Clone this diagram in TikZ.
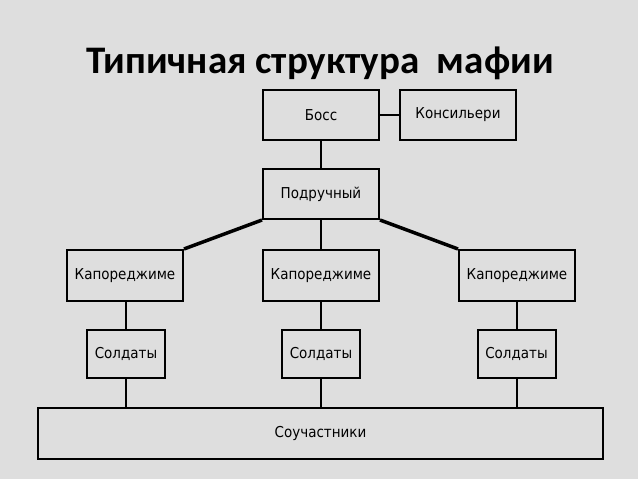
\documentclass[tikz,border=0pt]{standalone}
\usepackage{fontspec}
\setmainfont{DejaVu Sans}
\newfontfamily\boxfont{DejaVu Sans Condensed}
\newfontfamily\titlefont{Carlito}
\definecolor{bggray}{RGB}{222,222,222}
\begin{document}
\begin{tikzpicture}[x=1pt,y=-1pt,
  orgbox/.style={draw=black, line width=2pt, fill=bggray, minimum width=#1, inner sep=0pt,
    font=\boxfont\fontsize{15}{17}\selectfont},
  orgbox/.default=116pt,
  link/.style={line width=2pt},
  thicklink/.style={line width=3.5pt}]
\useasboundingbox[fill=bggray] (0,0) rectangle (638,479);
\node[font=\titlefont\bfseries\fontsize{39}{44}\selectfont, anchor=base] (title) at (320,73) {Типичная структура\ \ мафии};
\node[orgbox, minimum height=50pt] (boss) at (321,115) {Босс};
\node[orgbox, minimum height=50pt] (cons) at (458,115) {Консильери};
\node[orgbox, minimum height=50pt] (podr) at (321,194) {Подручный};
\node[orgbox, minimum height=51pt] (kap1) at (125,275.5) {Капореджиме};
\node[orgbox, minimum height=51pt] (kap2) at (321,275.5) {Капореджиме};
\node[orgbox, minimum height=51pt] (kap3) at (517,275.5) {Капореджиме};
\node[orgbox=78pt, minimum height=48pt] (sol1) at (126,354) {Солдаты};
\node[orgbox=78pt, minimum height=48pt] (sol2) at (321,354) {Солдаты};
\node[orgbox=78pt, minimum height=48pt] (sol3) at (516.5,354) {Солдаты};
\node[orgbox=565pt, minimum height=51pt] (souch) at (320.5,433.5) {Соучастники};
\draw[link] (boss) -- (cons);
\draw[link] (boss) -- (podr);
\draw[link] (podr) -- (kap2);
\draw[thicklink] (podr.south west) -- (kap1.north east);
\draw[thicklink] (podr.south east) -- (kap3.north west);
\draw[link] (sol1.north) -- (sol1.north |- kap1.south);
\draw[link] (kap2) -- (sol2);
\draw[link] (sol3.north) -- (sol3.north |- kap3.south);
\draw[link] (sol1.south) -- (sol1.south |- souch.north);
\draw[link] (sol2.south) -- (sol2.south |- souch.north);
\draw[link] (sol3.south) -- (sol3.south |- souch.north);
\end{tikzpicture}
\end{document}
